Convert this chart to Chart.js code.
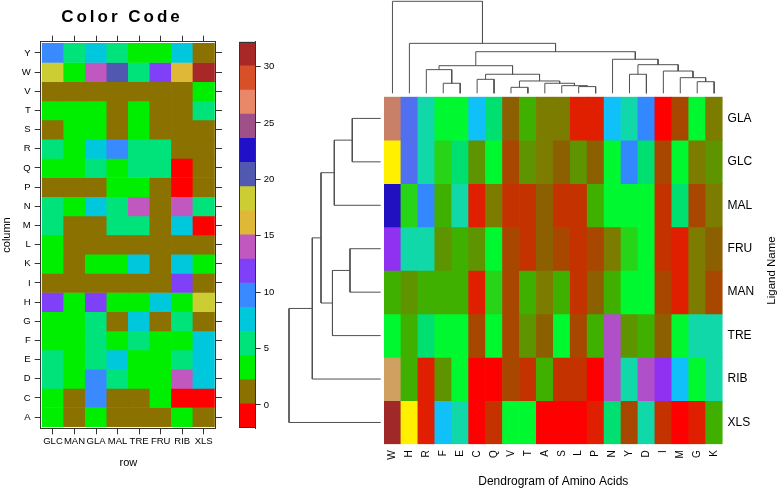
<!DOCTYPE html>
<html>
<head>
<meta charset="utf-8">
<script src="https://cdn.jsdelivr.net/npm/chart.js@4.4.0/dist/chart.umd.min.js"></script>
<style>
  body { margin: 0; background: #fff; }
  #page { position: relative; width: 778px; height: 490px; }
  #page canvas { position: absolute; left: 0; top: 0; }
</style>
</head>
<body>
<div id="page">
  <canvas id="codeChart" width="778" height="490"></canvas>
  <canvas id="keyChart" width="778" height="490"></canvas>
  <canvas id="heatChart" width="778" height="490"></canvas>
  <canvas id="colDendro" width="778" height="490"></canvas>
  <canvas id="rowDendro" width="778" height="490"></canvas>
</div>
<script>
// ---- data: color code panel ----
const ligands = ['GLC', 'MAN', 'GLA', 'MAL', 'TRE', 'FRU', 'RIB', 'XLS'];
const aminoRows = ['Y', 'W', 'V', 'T', 'S', 'R', 'Q', 'P', 'N', 'M', 'L', 'K', 'I', 'H', 'G', 'F', 'E', 'D', 'C', 'A'];

// one row per amino acid, columns in ligands order
const codeValues = [
    [10, 5, 8, 5, 3, 3, 8, 1],       // Y
    [18, 3, 14, 20, 5, 12, 16, 31],  // W
    [1, 1, 1, 1, 1, 1, 1, 3],        // V
    [3, 3, 3, 1, 3, 1, 1, 5],        // T
    [1, 3, 3, 1, 3, 1, 1, 1],        // S
    [5, 3, 8, 10, 5, 5, 1, 1],       // R
    [3, 3, 5, 3, 5, 5, -1, 1],       // Q
    [1, 1, 1, 3, 3, 1, -1, 1],       // P
    [5, 3, 8, 5, 14, 1, 14, 5],      // N
    [5, 1, 1, 5, 5, 1, 8, -1],       // M
    [3, 1, 1, 1, 1, 1, 1, 1],        // L
    [3, 1, 3, 3, 8, 1, 8, 3],        // K
    [1, 1, 1, 1, 1, 1, 12, 1],       // I
    [12, 3, 12, 3, 3, 8, 3, 18],     // H
    [3, 3, 5, 1, 8, 1, 5, 1],        // G
    [3, 3, 5, 3, 5, 3, 3, 8],        // F
    [5, 3, 5, 8, 3, 3, 5, 8],        // E
    [5, 3, 10, 5, 3, 3, 14, 8],      // D
    [3, 1, 10, 1, 1, 3, -1, -1],     // C
    [3, 1, 3, 1, 1, 1, 3, 1]         // A
];

// color key levels and labelled ticks
const keyBreaks = [-2.04, 0.1, 2.24, 4.38, 6.52, 8.66, 10.8, 12.94, 15.08, 17.22, 19.36, 21.5, 23.64, 25.78, 27.92, 30.06, 32.2];
const keyTicks = [0, 5, 10, 15, 20, 25, 30];

// ---- data: clustered heatmap ----
const heatRows = ['GLA', 'GLC', 'MAL', 'FRU', 'MAN', 'TRE', 'RIB', 'XLS'];
const heatCols = ['W', 'H', 'R', 'F', 'E', 'C', 'Q', 'V', 'T', 'A', 'S', 'L', 'P', 'N', 'Y', 'D', 'I', 'M', 'G', 'K'];

// level per ligand row, columns in heatCols order
const heatValues = [
    [20, 14, 11, 9, 9, 12, 10, 4, 7, 5, 5, 1, 1, 12, 11, 13, 0, 3, 9, 5],    // GLA
    [18, 14, 11, 8, 10, 6, 9, 3, 6, 5, 4, 6, 4, 9, 13, 10, 3, 9, 5, 6],      // GLC
    [17, 8, 13, 7, 11, 1, 5, 2, 2, 4, 2, 2, 7, 9, 9, 9, 2, 10, 3, 5],        // MAL
    [15, 11, 11, 6, 7, 6, 9, 3, 2, 4, 3, 2, 3, 5, 8, 9, 2, 1, 5, 4],         // FRU
    [7, 6, 7, 7, 7, 1, 8, 3, 7, 5, 7, 2, 4, 7, 9, 9, 3, 1, 5, 3],            // MAN
    [9, 7, 10, 9, 9, 3, 9, 3, 6, 4, 9, 3, 7, 16, 6, 7, 4, 9, 11, 11],        // TRE
    [19, 7, 1, 6, 9, 0, 0, 3, 2, 7, 2, 2, 0, 16, 11, 16, 15, 12, 9, 11],     // RIB
    [21, 18, 1, 12, 11, 0, 2, 9, 9, 0, 0, 0, 1, 10, 3, 11, 2, 0, 1, 7]       // XLS
];

// dendrograms: [merge height, left, right]
const colTree = [100, 'W', [54.3, 'H', [45.2,
    [30, [25.7, 'R', [10.9, 'F', 'E']],
         [20.7, [15.2, 'C', 'Q'], [13.4, [6.5, 'V', 'T'], [10.9, 'A', [8.3, 'S', [7.3, 'L', 'P']]]]]],
    [37, 'N', [31.1, [20.7, 'Y', 'D'], [24.2, 'I', [17, 'M', [12.6, 'G', 'K']]]]]]]];
const rowTree = [100, [74.6, [65.1, [50.6, [31, 'GLA', 'GLC'], 'MAL'], [52.6, [33.5, 'FRU', 'MAN'], 'TRE']], 'RIB'], 'XLS'];

// ---- styles ----
const keyColors = ['#ff0000', '#8a7100', '#00ee00', '#00e37a', '#00c8dc', '#3a8aff', '#8040f8', '#c058c0',
                   '#e0b838', '#cccc33', '#5058b0', '#2010c8', '#a05088', '#e88868', '#d85028', '#a82828'];
const heatPalette = ['#ff0000', '#e01e00', '#c43200', '#a84800', '#8c6000', '#7c7c00', '#5e9400', '#40b000',
                     '#28d418', '#00f830', '#00e070', '#10d8a8', '#10c0f8', '#3388ff', '#5070f0', '#9030f0',
                     '#b050c8', '#2010c0', '#fff000', '#d0a060', '#c88068', '#a02828'];
const FONT = "'Liberation Sans', Arial, sans-serif";
const INK = '#333';

Chart.defaults.font.family = FONT;
Chart.defaults.color = '#000';
Chart.defaults.animation = false;
Chart.defaults.events = [];
Chart.defaults.plugins.legend.display = false;
Chart.defaults.plugins.tooltip.enabled = false;

function codeColor(v) {
    for (let i = 0; i < keyColors.length; i++) {
        if (v < keyBreaks[i + 1]) return keyColors[i];
    }
    return keyColors[keyColors.length - 1];
}

// lock an axis to a given thickness so the chart areas line up across canvases
function fixSize(size) {
    return function (scale) {
        if (scale.isHorizontal()) scale.height = size; else scale.width = size;
        scale.paddingLeft = scale.paddingRight = scale.paddingTop = scale.paddingBottom = 0;
    };
}

function indexTicks(list) {
    return function (scale) {
        scale.ticks = list.map((_, i) => ({ value: i }));
    };
}

function dendroSegments(node, leaves, out) {
    if (typeof node === 'string') return { pos: leaves.indexOf(node), h: 0 };
    const [h, a, b] = node;
    const l = dendroSegments(a, leaves, out);
    const r = dendroSegments(b, leaves, out);
    out.push([[l.pos, l.h], [l.pos, h], [r.pos, h], [r.pos, r.h]]);
    return { pos: (l.pos + r.pos) / 2, h: h };
}

function textPlugin(items) {
    return {
        id: 'pageText',
        afterDraw(chart) {
            const ctx = chart.ctx;
            items.forEach(it => {
                ctx.save();
                ctx.translate(it.x, it.y);
                ctx.rotate((it.rotation || 0) * Math.PI / 180);
                ctx.font = it.font;
                ctx.fillStyle = '#000';
                ctx.textAlign = 'center';
                ctx.textBaseline = 'middle';
                if (it.spacing) ctx.letterSpacing = it.spacing;
                ctx.fillText(it.text, 0, 0);
                ctx.restore();
            });
        }
    };
}

const framePlugin = {
    id: 'frame',
    afterDatasetsDraw(chart) {
        const { ctx, chartArea: a } = chart;
        ctx.save();
        ctx.strokeStyle = INK;
        ctx.lineWidth = 1;
        ctx.strokeRect(Math.round(a.left) + 0.5, Math.round(a.top) + 0.5,
                       Math.round(a.right - a.left) - 1, Math.round(a.bottom - a.top) - 1);
        ctx.restore();
    }
};

// ---- Color Code heatmap ----
const tickGrid = { drawOnChartArea: false, drawTicks: true, tickLength: 6, color: INK, offset: false };
const boxBorder = { display: true, color: INK, width: 1 };

new Chart(document.getElementById('codeChart'), {
    type: 'bar',
    data: {
        datasets: aminoRows.map((aa, r) => ({
            label: aa,
            data: ligands.map((lig, c) => ({ x: c, y: [r - 0.5, r + 0.5] })),
            backgroundColor: codeValues[r].map(codeColor),
            borderWidth: 0,
            grouped: false,
            barPercentage: 1,
            categoryPercentage: 1
        }))
    },
    options: {
        responsive: false,
        layout: { padding: { left: 0.5, top: 35.7, right: 556, bottom: 20.7 } },
        scales: {
            x: {
                type: 'linear', position: 'bottom', min: -0.57, max: 7.57, offset: false,
                grid: tickGrid, border: boxBorder,
                afterBuildTicks: indexTicks(ligands),
                afterFit: fixSize(41),
                ticks: { callback: (v, i) => ligands[i], padding: 1.5, font: { size: 9.5 }, maxRotation: 0, autoSkip: false },
                title: { display: true, text: 'row', font: { size: 11 }, padding: 0 }
            },
            x2: {
                type: 'linear', position: 'top', min: -0.57, max: 7.57, offset: false,
                grid: tickGrid, border: boxBorder,
                afterBuildTicks: indexTicks(ligands),
                afterFit: fixSize(6),
                ticks: { display: false }
            },
            y: {
                type: 'linear', position: 'left', reverse: true, min: -0.583, max: 19.583,
                grid: tickGrid, border: boxBorder,
                afterBuildTicks: indexTicks(aminoRows),
                afterFit: fixSize(40.2),
                ticks: { callback: (v, i) => aminoRows[i], padding: 4, font: { size: 9.5 }, autoSkip: false },
                title: { display: true, text: 'column', font: { size: 11 }, padding: 0 }
            },
            y2: {
                type: 'linear', position: 'right', reverse: true, min: -0.583, max: 19.583,
                grid: tickGrid, border: boxBorder,
                afterBuildTicks: indexTicks(aminoRows),
                afterFit: fixSize(6),
                ticks: { display: false }
            }
        }
    },
    plugins: [textPlugin([
        { text: 'Color Code', x: 122, y: 17.8, font: 'bold 17px ' + FONT, spacing: '3px' }
    ])]
});

// ---- color key ----
new Chart(document.getElementById('keyChart'), {
    type: 'bar',
    data: {
        labels: ['key'],
        datasets: keyColors.map((col, i) => ({
            data: [[keyBreaks[i], keyBreaks[i + 1]]],
            backgroundColor: col,
            borderWidth: 0,
            grouped: false,
            barPercentage: 1,
            categoryPercentage: 1
        }))
    },
    options: {
        responsive: false,
        layout: { padding: { left: 239, top: 41.7, right: 492.3, bottom: 62 } },
        scales: {
            x: { display: false },
            y: {
                position: 'right', min: keyBreaks[0], max: keyBreaks[keyBreaks.length - 1],
                afterBuildTicks: s => { s.ticks = keyTicks.map(v => ({ value: v })); },
                afterFit: fixSize(30),
                grid: { drawOnChartArea: false, tickLength: 5, color: INK },
                border: boxBorder,
                ticks: { padding: 3, font: { size: 9.5 } }
            }
        }
    },
    plugins: [framePlugin]
});

// ---- clustered heatmap ----
new Chart(document.getElementById('heatChart'), {
    type: 'bar',
    data: {
        datasets: heatRows.map((lig, r) => ({
            label: lig,
            data: heatCols.map((aa, c) => ({ x: c, y: [r - 0.5, r + 0.5] })),
            backgroundColor: heatValues[r].map(v => heatPalette[v]),
            borderWidth: 0,
            grouped: false,
            barPercentage: 1,
            categoryPercentage: 1
        }))
    },
    options: {
        responsive: false,
        layout: { padding: { left: 384, top: 96.7, right: 15.4, bottom: 1.3 } },
        scales: {
            x: {
                type: 'linear', min: -0.5, max: 19.5, offset: false,
                grid: { display: false, drawTicks: false, offset: false },
                border: { display: false },
                afterBuildTicks: indexTicks(heatCols),
                afterFit: fixSize(44.5),
                ticks: { callback: (v, i) => heatCols[i], minRotation: 90, maxRotation: 90, autoSkip: false, padding: 6, font: { size: 10 } },
                title: { display: true, text: 'Dendrogram of Amino Acids', font: { size: 12 }, padding: 0 }
            },
            y: {
                type: 'linear', position: 'right', reverse: true, min: -0.5, max: 7.5,
                grid: { display: false, drawTicks: false },
                border: { display: false },
                afterBuildTicks: indexTicks(heatRows),
                afterFit: fixSize(40),
                ticks: { callback: (v, i) => heatRows[i], padding: 5, font: { size: 12 }, autoSkip: false }
            }
        }
    },
    plugins: [textPlugin([
        { text: 'Ligand Name', x: 771.7, y: 270.5, rotation: -90, font: '11.5px ' + FONT }
    ])]
});

// ---- dendrograms ----
function dendroDatasets(segs, horizontal) {
    return segs.map(seg => ({
        data: seg.map(([p, h]) => horizontal ? { x: h, y: p } : { x: p, y: h }),
        showLine: true,
        pointRadius: 0,
        borderColor: '#505050',
        borderWidth: 1,
        tension: 0,
        clip: false
    }));
}

const colSegs = [];
dendroSegments(colTree, heatCols, colSegs);
new Chart(document.getElementById('colDendro'), {
    type: 'scatter',
    data: { datasets: dendroDatasets(colSegs, false) },
    options: {
        responsive: false,
        layout: { padding: { left: 384, top: 1.3, right: 55.4, bottom: 396.7 } },
        scales: {
            x: { display: false, min: -0.5, max: 19.5 },
            y: { display: false, min: 0, max: 100 }
        }
    }
});

const rowSegs = [];
dendroSegments(rowTree, heatRows, rowSegs);
new Chart(document.getElementById('rowDendro'), {
    type: 'scatter',
    data: { datasets: dendroDatasets(rowSegs, true) },
    options: {
        responsive: false,
        layout: { padding: { left: 289, top: 96.7, right: 397.3, bottom: 45.8 } },
        scales: {
            x: { display: false, reverse: true, min: 0, max: 100 },
            y: { display: false, reverse: true, min: -0.5, max: 7.5 }
        }
    }
});
</script>
</body>
</html>
